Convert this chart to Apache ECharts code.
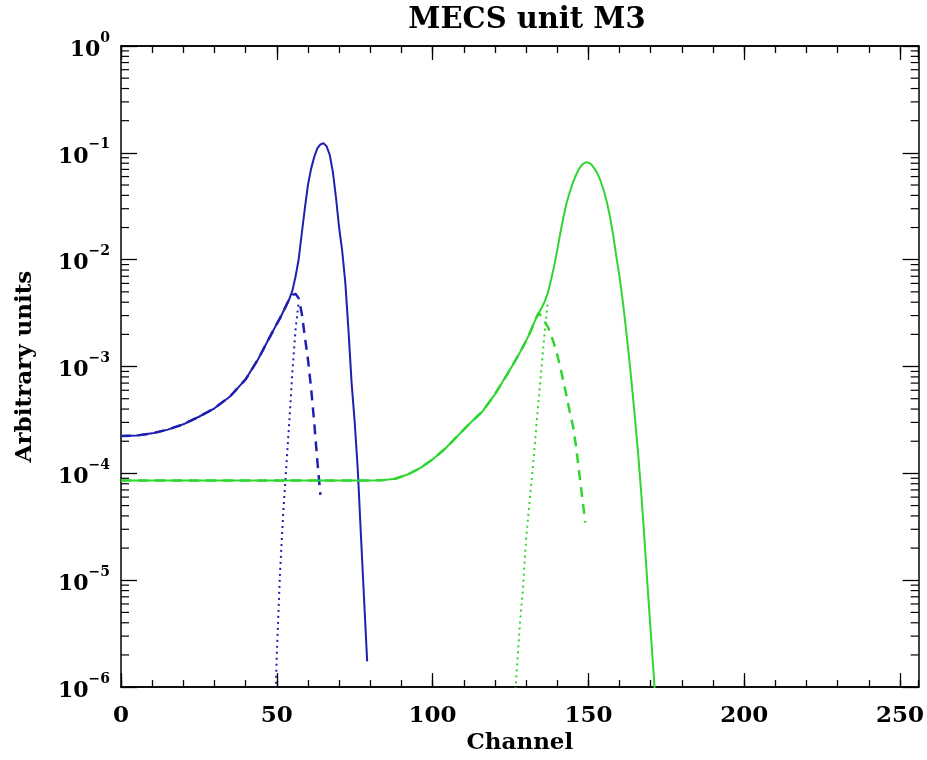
<!DOCTYPE html>
<html><head><meta charset="utf-8">
<script src="https://cdn.jsdelivr.net/npm/echarts@6/dist/echarts.min.js"></script>
<style>html,body{margin:0;padding:0;background:#fff}#c{width:927px;height:760px}</style>
</head><body><div id="c"></div>
<script>
const titleText = 'MECS unit M3';
const xName = 'Channel';
const yName = 'Arbitrary units';
const xMajorTicks = [0, 50, 100, 150, 200, 250];
const yDecadeExps = [-6, -5, -4, -3, -2, -1, 0];
const yMinorMantissas = [2, 3, 4, 5, 6, 7, 8, 9];

// Blue (low-energy line) : total, dashed component, dotted component
const blueTotalCh = [0,5,10,15,20,25,30,35,40,44,48,50,51,52,53,54,55,56,57,58,59,60,61,62,63,64,65,66,67,68,69,70,71,72,73,74,75,76,77,78,79];
const blueTotalVal = [2.24e-4,2.26e-4,2.37e-4,2.57e-4,2.88e-4,3.39e-4,4.07e-4,5.25e-4,7.59e-4,1.17e-3,1.95e-3,2.51e-3,2.82e-3,3.24e-3,3.72e-3,4.27e-3,5.13e-3,6.92e-3,1.0e-2,1.74e-2,3.02e-2,5.01e-2,7.08e-2,9.12e-2,0.110,0.120,0.123,0.115,9.55e-2,6.61e-2,3.80e-2,2.0e-2,1.20e-2,6.03e-3,2.19e-3,7.08e-4,3.02e-4,1.07e-4,2.63e-5,6.76e-6,1.74e-6];
const blueDashCh = [0,5,10,15,20,25,30,35,40,44,48,50,51,52,53,54,55,56,57,58,59,60,61,62,63,64];
const blueDashVal = [2.24e-4,2.26e-4,2.37e-4,2.57e-4,2.88e-4,3.39e-4,4.07e-4,5.25e-4,7.59e-4,1.17e-3,1.95e-3,2.51e-3,2.82e-3,3.24e-3,3.72e-3,4.27e-3,4.68e-3,4.79e-3,4.37e-3,3.16e-3,1.91e-3,1.17e-3,6.31e-4,3.02e-4,1.32e-4,6.31e-5];
const blueDotCh = [49,50,51,52,53,54,55,56,57];
const blueDotVal = [2.0e-7,2.0e-6,1.12e-5,3.98e-5,1.10e-4,3.02e-4,8.91e-4,2.19e-3,3.98e-3];

// Green (high-energy line)
const greenTotalCh = [0,20,40,60,80,84,88,92,96,100,104,108,112,116,120,124,126,128,130,131,132,133,134,135,136,137,138,139,140,141,142,143,144,145,146,147,148,149,150,151,152,153,154,155,156,157,158,159,160,161,162,163,164,165,166,167,168,169,170,171,172];
const greenTotalVal = [8.6e-5,8.6e-5,8.6e-5,8.6e-5,8.6e-5,8.65e-5,8.91e-5,9.77e-5,1.12e-4,1.35e-4,1.70e-4,2.24e-4,2.95e-4,3.80e-4,5.50e-4,8.51e-4,1.07e-3,1.35e-3,1.74e-3,2.0e-3,2.34e-3,2.75e-3,3.16e-3,3.55e-3,4.07e-3,4.90e-3,6.46e-3,8.71e-3,1.23e-2,1.78e-2,2.51e-2,3.39e-2,4.27e-2,5.25e-2,6.17e-2,7.08e-2,7.76e-2,8.13e-2,8.13e-2,7.76e-2,7.08e-2,6.31e-2,5.37e-2,4.37e-2,3.39e-2,2.45e-2,1.66e-2,1.05e-2,6.92e-3,4.17e-3,2.34e-3,1.26e-3,6.46e-4,3.16e-4,1.48e-4,6.31e-5,2.40e-5,8.71e-6,3.31e-6,1.26e-6,4.47e-7];
const greenDashCh = [0,20,40,60,80,84,88,92,96,100,104,108,112,116,120,124,126,128,130,131,132,133,134,135,136,137,138,139,140,141,142,143,144,145,146,147,148,149];
const greenDashVal = [8.6e-5,8.6e-5,8.6e-5,8.6e-5,8.6e-5,8.65e-5,8.91e-5,9.77e-5,1.12e-4,1.35e-4,1.70e-4,2.24e-4,2.95e-4,3.80e-4,5.50e-4,8.51e-4,1.07e-3,1.35e-3,1.74e-3,2.0e-3,2.34e-3,2.75e-3,3.16e-3,2.95e-3,2.63e-3,2.34e-3,2.0e-3,1.62e-3,1.29e-3,9.77e-4,7.24e-4,5.25e-4,3.80e-4,2.82e-4,1.82e-4,1.05e-4,6.03e-5,3.47e-5];
const greenDotCh = [126,127,128,129,130,131,132,133,134,135,136,137];
const greenDotVal = [5.0e-7,1.41e-6,3.80e-6,8.51e-6,2.40e-5,5.01e-5,1.0e-4,2.19e-4,4.79e-4,1.0e-3,2.14e-3,4.17e-3];

const BLUE = '#2020b0';
const GREEN = '#30d630';
const FONT = 'DejaVu Serif';

function zip(a, b) { return a.map((x, i) => [x, b[i]]); }

const minorTickValues = [];
yDecadeExps.slice(0, -1).forEach(e => yMinorMantissas.forEach(m => minorTickValues.push([0, m * Math.pow(10, e)])));

const supMap = {'-':'\u2212'};
function yLabel(v) {
  const e = Math.round(Math.log10(v));
  if (!yDecadeExps.includes(e)) return '';
  const s = String(e).split('').map(c => supMap[c] || c).join('');
  return '{b|10}{s|' + s + '}';
}

const axisLineStyle = { color: '#000', width: 1.5 };
const labelStyle = { fontFamily: FONT, fontWeight: 'bold', fontSize: 23, color: '#000' };

function xAx(pos, interval, len, labels) {
  return {
    type: 'value', min: 0, max: 256, interval: interval, position: pos,
    axisLine: { show: true, onZero: false, lineStyle: axisLineStyle },
    axisTick: { show: true, inside: true, length: len, lineStyle: { color: '#000', width: 1.3 } },
    axisLabel: labels ? Object.assign({ show: true, margin: 17, showMaxLabel: false,
      formatter: v => (xMajorTicks.includes(v) ? String(v) : '') }, labelStyle) : { show: false },
    splitLine: { show: false }
  };
}

const chart = echarts.init(document.getElementById('c'), null, { renderer: 'canvas' });
chart.setOption({
  animation: false,
  backgroundColor: '#fff',
  title: {
    text: titleText, left: 522, top: 1, textAlign: 'center',
    textStyle: { fontFamily: FONT, fontWeight: 'bold', fontSize: 29, color: '#000' }
  },
  grid: { left: 121, right: 4, top: 46, bottom: 72, containLabel: false },
  xAxis: [
    Object.assign(xAx('bottom', 50, 14, true), {
      name: xName, nameLocation: 'middle', nameGap: 44,
      nameTextStyle: { fontFamily: FONT, fontWeight: 'bold', fontSize: 23, color: '#000' }
    }),
    xAx('bottom', 10, 7, false),
    xAx('top', 50, 14, false),
    xAx('top', 10, 7, false)
  ],
  yAxis: [
    {
      type: 'log', logBase: 10, min: 1e-6, max: 1, splitNumber: 6, position: 'left',
      axisLine: { show: true, onZero: false, lineStyle: axisLineStyle },
      axisTick: { show: true, inside: true, length: 16, lineStyle: { color: '#000', width: 1.3 } },
      axisLabel: {
        show: true, margin: 11, formatter: yLabel,
        rich: {
          b: { fontFamily: FONT, fontWeight: 'bold', fontSize: 22, color: '#000', lineHeight: 30, verticalAlign: 'bottom' },
          s: { fontFamily: FONT, fontWeight: 'bold', fontSize: 14, color: '#000', lineHeight: 30, verticalAlign: 'top' }
        }
      },
      splitLine: { show: false },
      name: yName, nameLocation: 'middle', nameGap: 84, nameRotate: 90,
      nameTextStyle: { fontFamily: FONT, fontWeight: 'bold', fontSize: 23, color: '#000' }
    },
    {
      type: 'log', logBase: 10, min: 1e-6, max: 1, splitNumber: 6, position: 'right',
      axisLine: { show: true, onZero: false, lineStyle: axisLineStyle },
      axisTick: { show: true, inside: true, length: 16, lineStyle: { color: '#000', width: 1.3 } },
      axisLabel: { show: false }, splitLine: { show: false }
    }
  ],
  series: [
    { type: 'line', name: 'blue total', data: zip(blueTotalCh, blueTotalVal), showSymbol: false, symbol: 'none',
      lineStyle: { color: BLUE, width: 2 }, clip: true, z: 3 },
    { type: 'line', name: 'blue dashed', data: zip(blueDashCh, blueDashVal), showSymbol: false, symbol: 'none',
      lineStyle: { color: BLUE, width: 2.5, type: [10, 7] }, clip: true, z: 3 },
    { type: 'line', name: 'blue dotted', data: zip(blueDotCh, blueDotVal), showSymbol: false, symbol: 'none',
      lineStyle: { color: BLUE, width: 2, type: [2, 4] }, clip: true, z: 3 },
    { type: 'line', name: 'green total', data: zip(greenTotalCh, greenTotalVal), showSymbol: false, symbol: 'none',
      lineStyle: { color: GREEN, width: 2 }, clip: true, z: 3 },
    { type: 'line', name: 'green dashed', data: zip(greenDashCh, greenDashVal), showSymbol: false, symbol: 'none',
      lineStyle: { color: GREEN, width: 2.5, type: [10, 7] }, clip: true, z: 3 },
    { type: 'line', name: 'green dotted', data: zip(greenDotCh, greenDotVal), showSymbol: false, symbol: 'none',
      lineStyle: { color: GREEN, width: 2, type: [2, 4] }, clip: true, z: 3 },
    { type: 'custom', name: 'minor y ticks', data: minorTickValues, silent: true, z: 4,
      renderItem: function (params, api) {
        const y = api.coord([0, api.value(1)])[1];
        const cs = params.coordSys;
        const st = { stroke: '#000', lineWidth: 1.2 };
        return { type: 'group', children: [
          { type: 'line', shape: { x1: cs.x, y1: y, x2: cs.x + 8, y2: y }, style: st },
          { type: 'line', shape: { x1: cs.x + cs.width - 8, y1: y, x2: cs.x + cs.width, y2: y }, style: st }
        ]};
      }
    }
  ]
});
</script>
</body></html>
